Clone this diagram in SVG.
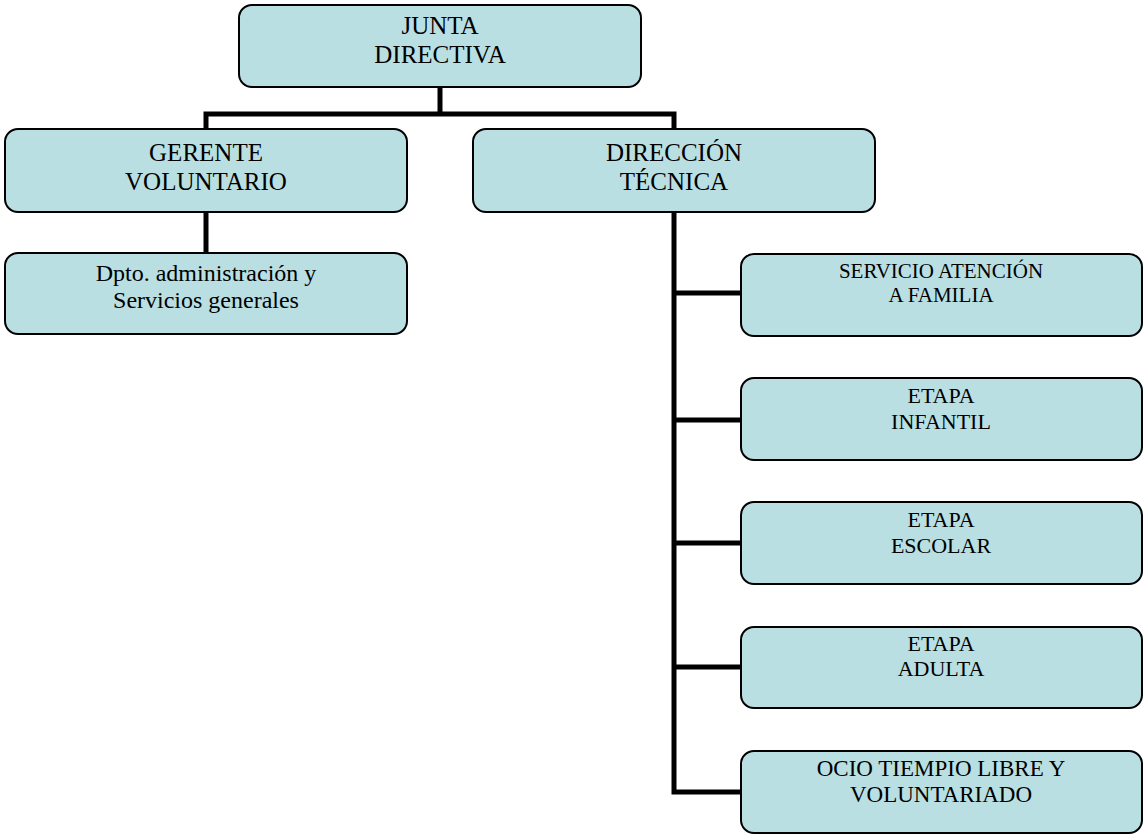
<svg xmlns="http://www.w3.org/2000/svg" width="1144" height="836" viewBox="0 0 1144 836">
<style>
.box{fill:#b9dfe3;stroke:#000;stroke-width:2}
.lbl{fill:#000;text-anchor:middle}
.conn{fill:none;stroke:#000;stroke-width:5;stroke-linejoin:miter;stroke-linecap:butt}
</style>
<rect width="1144" height="836" fill="#fff"/>
<g id="connectors">
<path class="conn" d="M440 87 V114"/>
<path class="conn" d="M206 129 V114 H674 V129"/>
<path class="conn" d="M206 212 V253"/>
<path class="conn" d="M674 212 V792 H741"/>
<path class="conn" d="M674 293 H741 M674 420 H741 M674 543 H741 M674 667 H741"/>
</g>
<g font-family="Liberation Serif, DejaVu Serif, serif">
<g id="junta">
<rect class="box" x="239" y="5" width="402" height="82" rx="13"/>
<text class="lbl" font-size="25" x="440" y="34">JUNTA</text>
<text class="lbl" font-size="25" x="440" y="63">DIRECTIVA</text>
</g>
<g id="gerente">
<rect class="box" x="5" y="129" width="402" height="83" rx="13"/>
<text class="lbl" font-size="25" x="206" y="161">GERENTE</text>
<text class="lbl" font-size="25" x="206" y="190">VOLUNTARIO</text>
</g>
<g id="direccion">
<rect class="box" x="473" y="129" width="402" height="83" rx="13"/>
<text class="lbl" font-size="25" x="674" y="161">DIRECCIÓN</text>
<text class="lbl" font-size="25" x="674" y="190">TÉCNICA</text>
</g>
<g id="dpto">
<rect class="box" x="5" y="253" width="402" height="81" rx="13"/>
<text class="lbl" font-size="24" x="206" y="281">Dpto. administración y</text>
<text class="lbl" font-size="24" x="206" y="308">Servicios generales</text>
</g>
<g id="servicio">
<rect class="box" x="741" y="254" width="401" height="82" rx="13"/>
<text class="lbl" font-size="21" x="941" y="278">SERVICIO ATENCIÓN</text>
<text class="lbl" font-size="21" x="941" y="302">A FAMILIA</text>
</g>
<g id="infantil">
<rect class="box" x="741" y="378" width="401" height="82" rx="13"/>
<text class="lbl" font-size="22" x="941" y="403">ETAPA</text>
<text class="lbl" font-size="22" x="941" y="429">INFANTIL</text>
</g>
<g id="escolar">
<rect class="box" x="741" y="502" width="401" height="82" rx="13"/>
<text class="lbl" font-size="22" x="941" y="527">ETAPA</text>
<text class="lbl" font-size="22" x="941" y="553">ESCOLAR</text>
</g>
<g id="adulta">
<rect class="box" x="741" y="627" width="401" height="81" rx="13"/>
<text class="lbl" font-size="22" x="941" y="651">ETAPA</text>
<text class="lbl" font-size="22" x="941" y="676">ADULTA</text>
</g>
<g id="ocio">
<rect class="box" x="741" y="751" width="401" height="82" rx="13"/>
<text class="lbl" font-size="23" x="941" y="776">OCIO TIEMPIO LIBRE Y</text>
<text class="lbl" font-size="23" x="941" y="802">VOLUNTARIADO</text>
</g>
</g>
</svg>
